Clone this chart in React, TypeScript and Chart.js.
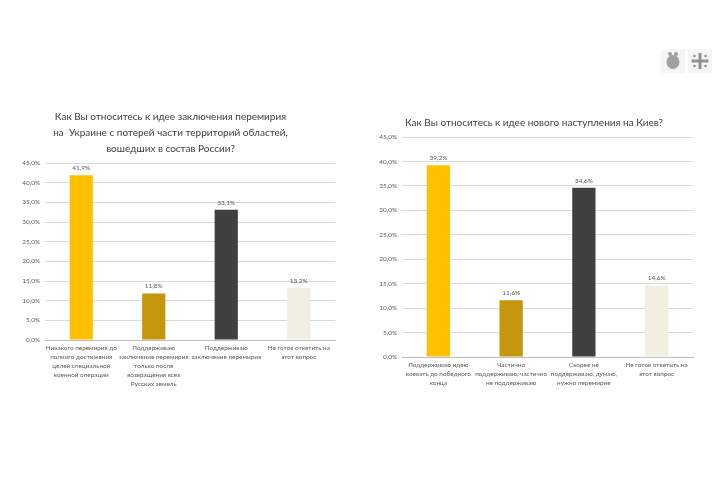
import React, { useEffect, useRef } from "react";
import { Chart, registerables } from "chart.js";

Chart.register(...registerables);

const leftTitle = [
  "Как Вы относитесь к идее заключения перемирия",
  "на  Украине с потерей части территорий областей,",
  "вошедших в состав России?",
];
const leftCategories = [
  ["Никакого перемирия до", "полного достижения", "целей специальной", "военной операции"],
  ["Поддерживаю", "заключение перемирия", "только после", "возвращения всех", "Русских земель"],
  ["Поддерживаю", "заключение перемирия"],
  ["Не готов ответить на", "этот вопрос"],
];
const leftValues = [41.9, 11.8, 33.1, 13.2];

const rightTitle = ["Как Вы относитесь к идее нового наступления на Киев?"];
const rightCategories = [
  ["Поддерживаю идею", "воевать до победного", "конца"],
  ["Частично", "поддерживаю, частично", "не поддерживаю"],
  ["Скорее не", "поддерживаю, думаю,", "нужно перемирие"],
  ["Не готов ответить на", "этот вопрос"],
];
const rightValues = [39.2, 11.6, 34.6, 14.6];

const yTicks = [0, 5, 10, 15, 20, 25, 30, 35, 40, 45];
const barColors = ["#FFC000", "#C4960C", "#404040", "#F1EFE1"];

const FONT = "Lato, 'Open Sans', sans-serif";
const TEXT = "#595959";
const TITLE = "#404040";

const fmt = (v: number) => v.toFixed(1).replace(".", ",") + "%";

const valueLabels = {
  id: "valueLabels",
  afterDatasetsDraw(chart: any) {
    const ctx = chart.ctx;
    chart.data.datasets.forEach((ds: any, i: number) => {
      const meta = chart.getDatasetMeta(i);
      meta.data.forEach((el: any, j: number) => {
        ctx.save();
        ctx.font = `6.5px ${FONT}`;
        ctx.fillStyle = TEXT;
        ctx.textAlign = "center";
        ctx.textBaseline = "bottom";
        ctx.fillText(fmt(ds.data[j]), el.x, el.y - 4);
        ctx.restore();
      });
    });
  },
};

type Cfg = {
  title: string[];
  categories: string[][];
  values: number[];
  padding: { left: number; right: number; top: number; bottom: number };
  yWidth: number;
  xHeight: number;
  titlePad: { top: number; bottom: number };
};

function BarChart(props: Cfg & { style: React.CSSProperties }) {
  const ref = useRef<HTMLCanvasElement>(null);
  useEffect(() => {
    const chart = new Chart(ref.current!, {
      type: "bar",
      data: {
        labels: props.categories,
        datasets: [
          {
            data: props.values,
            backgroundColor: barColors,
            borderWidth: 0,
            barPercentage: 0.32,
            categoryPercentage: 1,
          },
        ],
      },
      options: {
        animation: false,
        responsive: false,
        maintainAspectRatio: false,
        layout: { padding: props.padding },
        plugins: {
          legend: { display: false },
          tooltip: { enabled: false },
          title: {
            display: true,
            text: props.title,
            color: TITLE,
            font: { family: FONT, size: 10, weight: "normal", lineHeight: 16 / 10 },
            padding: props.titlePad,
          },
        },
        scales: {
          x: {
            grid: { display: false, drawTicks: false },
            border: { display: true, color: "#BFBFBF" },
            ticks: {
              autoSkip: false,
              maxRotation: 0,
              minRotation: 0,
              color: TEXT,
              padding: 4,
              font: { family: FONT, size: 6.4, lineHeight: 8.8 / 6.4 },
            },
            afterFit: (s: any) => {
              s.height = props.xHeight;
            },
          },
          y: {
            min: 0,
            max: 45,
            afterBuildTicks: (s: any) => {
              s.ticks = yTicks.map((v) => ({ value: v }));
            },
            grid: { color: "#D9D9D9", drawTicks: false },
            border: { display: false },
            ticks: {
              color: TEXT,
              padding: 5,
              font: { family: FONT, size: 6.4 },
              callback: (v: any) => fmt(Number(v)),
            },
            afterFit: (s: any) => {
              s.width = props.yWidth;
            },
          },
        },
      },
      plugins: [valueLabels],
    });
    return () => chart.destroy();
  }, []);
  const w = props.style.width as number;
  const h = props.style.height as number;
  return <canvas ref={ref} width={w} height={h} style={{ position: "absolute", ...props.style }} />;
}

function Logos() {
  return (
    <svg width={52} height={24} style={{ position: "absolute", left: 661, top: 49 }} viewBox="0 0 52 24">
      <rect x={0} y={0} width={24} height={24} fill="#F5F5F5" />
      <rect x={27} y={0} width={24} height={24} fill="#F5F5F5" />
      <ellipse cx={12} cy={13} rx={6.5} ry={7} fill="#A0A0A0" />
      <circle cx={9} cy={5} r={2} fill="#A0A0A0" />
      <circle cx={15} cy={5} r={2} fill="#A0A0A0" />
      <rect x={37.5} y={4} width={3} height={16} fill="#909090" />
      <rect x={30.5} y={10.5} width={17} height={3} fill="#909090" />
      <circle cx={33.5} cy={7} r={1.3} fill="#909090" />
      <circle cx={44.5} cy={7} r={1.3} fill="#909090" />
      <circle cx={33.5} cy={17} r={1.3} fill="#909090" />
      <circle cx={44.5} cy={17} r={1.3} fill="#909090" />
    </svg>
  );
}

export default function App() {
  return (
    <div
      style={{
        position: "fixed",
        left: 0,
        top: 0,
        width: 720,
        height: 480,
        background: "#FFFFFF",
        overflow: "hidden",
      }}
    >
      <Logos />
      <BarChart
        title={leftTitle}
        categories={leftCategories}
        values={leftValues}
        padding={{ left: 6, right: 15, top: 0, bottom: 0 }}
        yWidth={39}
        xHeight={60}
        titlePad={{ top: 9, bottom: 6 }}
        style={{ left: 0, top: 100, width: 350, height: 300 }}
      />
      <BarChart
        title={rightTitle}
        categories={rightCategories}
        values={rightValues}
        padding={{ left: 0, right: 4, top: 0, bottom: 0 }}
        yWidth={27}
        xHeight={40}
        titlePad={{ top: 15, bottom: 6 }}
        style={{ left: 375, top: 100, width: 322, height: 297 }}
      />
    </div>
  );
}
